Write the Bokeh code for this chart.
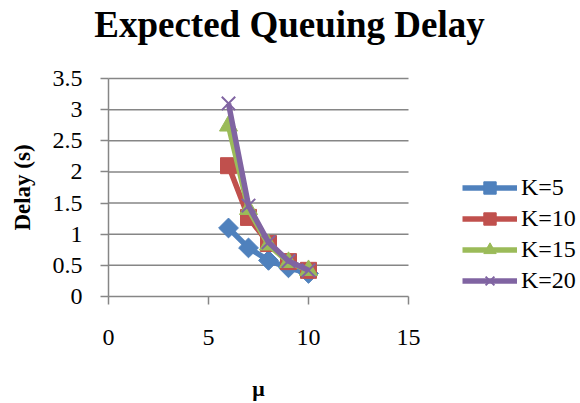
import math

from bokeh.embed import file_html
from bokeh.models import Label, Legend, LegendItem, Range1d, FixedTicker
from bokeh.plotting import figure
from bokeh.resources import INLINE

# Service rate values on the horizontal axis
mu = [6, 7, 8, 9, 10]

# Expected queuing delay (seconds) for each buffer size K
delay_k5 = [1.10, 0.78, 0.58, 0.46, 0.37]
delay_k10 = [2.10, 1.27, 0.85, 0.56, 0.42]
delay_k15 = [2.74, 1.40, 0.83, 0.55, 0.42]
delay_k20 = [3.10, 1.46, 0.87, 0.57, 0.42]

series_labels = ["K=5", "K=10", "K=15", "K=20"]
x_ticks = [0, 5, 10, 15]
y_ticks = [0, 0.5, 1, 1.5, 2, 2.5, 3, 3.5]

SERIF = "Liberation Serif"
GRID = "#868686"

# Canvas layout (pixels): the plotting area spans the whole canvas and the
# axes are pinned at the origin, so title, axis titles and legend all sit
# inside the frame.
W, H = 580, 403
ORIGIN_X, ORIGIN_Y = 108, 296          # screen position of (0, 0)
PX_PER_X = 300 / (x_ticks[-1] - x_ticks[0])
PX_PER_Y = 218 / (y_ticks[-1] - y_ticks[0])

x_range = Range1d(x_ticks[0] - ORIGIN_X / PX_PER_X,
                  x_ticks[0] + (W - ORIGIN_X) / PX_PER_X)
y_range = Range1d(y_ticks[0] - (H - ORIGIN_Y) / PX_PER_Y,
                  y_ticks[0] + ORIGIN_Y / PX_PER_Y)

p = figure(
    width=W,
    height=H,
    output_backend="svg",
    toolbar_location=None,
    x_range=x_range,
    y_range=y_range,
    min_border_left=0,
    min_border_right=0,
    min_border_top=0,
    min_border_bottom=0,
)
p.outline_line_color = None
p.background_fill_color = "white"
p.border_fill_color = "white"
p.xgrid.grid_line_color = None
p.ygrid.grid_line_color = None

# Axes pinned at the origin and bounded to the tick span
for ax in (p.xaxis[0], p.yaxis[0]):
    ax.fixed_location = 0
    ax.axis_line_color = GRID
    ax.axis_line_width = 1.5
    ax.major_tick_line_color = GRID
    ax.major_tick_line_width = 1.5
    ax.major_tick_in = 0
    ax.major_tick_out = 8
    ax.minor_tick_line_color = None
    ax.major_label_text_font = SERIF
    ax.major_label_text_font_size = "24px"
    ax.major_label_text_color = "black"

p.xaxis.ticker = FixedTicker(ticks=x_ticks)
p.yaxis.ticker = FixedTicker(ticks=y_ticks)
p.xaxis.bounds = (x_ticks[0], x_ticks[-1])
p.yaxis.bounds = (y_ticks[0], y_ticks[-1])
p.xaxis.major_label_standoff = 25
p.yaxis.major_label_standoff = 18

# Horizontal gridlines over the tick span
p.segment(x0=x_ticks[0], x1=x_ticks[-1], y0=y_ticks[1:], y1=y_ticks[1:],
          line_color=GRID, line_width=1.5)

colors = ["#4F81BD", "#C0504D", "#9BBB59", "#8064A2"]
markers = ["square", "square", "triangle", "x"]
angles = [math.pi / 4, 0, 0, 0]
sizes = [14, 16, 18, 19]
series = [delay_k5, delay_k10, delay_k15, delay_k20]

items = []
for label, ys, color, marker, angle, size in zip(series_labels, series, colors, markers, angles, sizes):
    ln = p.line(mu, ys, line_color=color, line_width=5.5)
    if marker == "x":
        sc = p.scatter(mu, ys, marker=marker, size=size, line_color=color, line_width=2)
    else:
        sc = p.scatter(mu, ys, marker=marker, size=size, angle=angle,
                       fill_color=color, line_color=color)
    items.append(LegendItem(label=label, renderers=[ln, sc]))

legend = Legend(
    items=items,
    location=(462, 107),
    orientation="vertical",
    padding=0,
    margin=0,
    spacing=0,
    glyph_width=55,
    glyph_height=31,
    label_height=20,
    label_standoff=4,
    label_text_font=SERIF,
    label_text_font_size="24px",
    label_text_color="black",
    border_line_color=None,
    background_fill_alpha=0,
)
p.add_layout(legend, "center")

# Title and axis titles, placed by their vertical centres
p.add_layout(Label(
    x=289, y=H - 24, x_units="screen", y_units="screen",
    text="Expected Queuing Delay",
    text_font=SERIF, text_font_size="37px", text_font_style="bold",
    text_color="black", text_align="center", text_baseline="middle",
))
p.add_layout(Label(
    x=22, y=H - 187, x_units="screen", y_units="screen", angle=math.pi / 2,
    text="Delay (s)",
    text_font=SERIF, text_font_size="23px", text_font_style="bold",
    text_color="black", text_align="center", text_baseline="middle",
))
p.add_layout(Label(
    x=258, y=H - 388, x_units="screen", y_units="screen",
    text="μ",
    text_font=SERIF, text_font_size="22px", text_font_style="bold",
    text_color="black", text_align="center", text_baseline="middle",
))

open("out.html", "w").write(file_html(p, INLINE))
